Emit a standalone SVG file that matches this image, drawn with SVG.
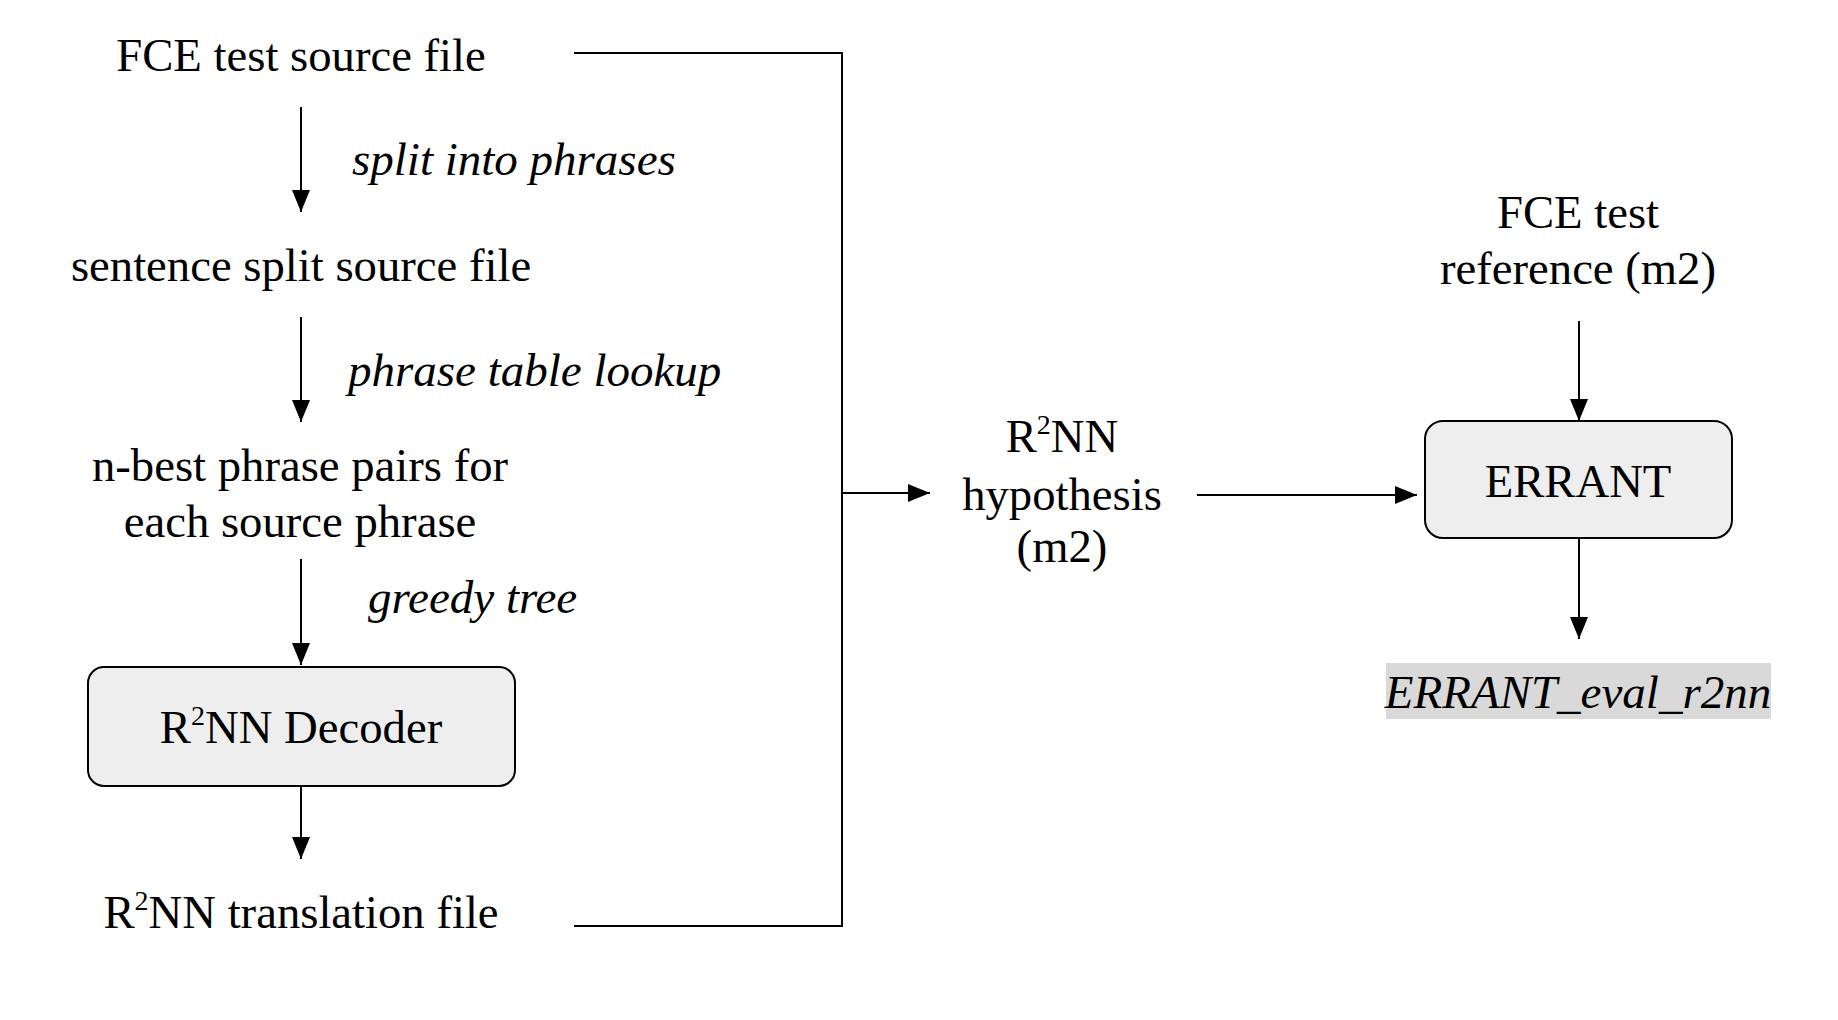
<svg xmlns="http://www.w3.org/2000/svg" width="1838" height="1020" viewBox="0 0 1838 1020">
<defs>
<marker id="ah" viewBox="0 0 22 18" refX="22" refY="9" markerWidth="22" markerHeight="18" markerUnits="userSpaceOnUse" orient="auto">
<path d="M0,0 L22,9 L0,18 z" fill="#000"/>
</marker>
<style>
text{font-family:"Liberation Serif","Times New Roman",serif;font-size:46.7px;fill:#000}
.c{text-anchor:middle}
.i{font-style:italic;font-size:47px}
.box{fill:#eeeeee;stroke:#000;stroke-width:2}
.ln{fill:none;stroke:#000;stroke-width:2}
.ar{fill:none;stroke:#000;stroke-width:2;marker-end:url(#ah)}
</style>
</defs>
<rect width="1838" height="1020" fill="#fff"/>
<g id="connectors">
<line class="ar" x1="301" y1="107" x2="301" y2="212"/>
<line class="ar" x1="301" y1="317" x2="301" y2="422"/>
<line class="ar" x1="301" y1="559" x2="301" y2="665"/>
<line class="ar" x1="301" y1="786" x2="301" y2="859"/>
<polyline class="ln" points="574,53 842,53 842,926 574,926"/>
<line class="ar" x1="842" y1="493" x2="930" y2="493"/>
<line class="ar" x1="1197" y1="495" x2="1417" y2="495"/>
<line class="ar" x1="1579" y1="321" x2="1579" y2="421"/>
<line class="ar" x1="1579" y1="538" x2="1579" y2="639"/>
<text class="i" x="352" y="175">split into phrases</text>
<text class="i" x="348" y="386">phrase table lookup</text>
<text class="i" x="368" y="613">greedy tree</text>
</g>
<g id="fce-source"><text class="c" x="301" y="71">FCE test source file</text></g>
<g id="sentence-split"><text class="c" x="301" y="281">sentence split source file</text></g>
<g id="nbest">
<text class="c" x="300" y="481">n-best phrase pairs for</text>
<text class="c" x="300" y="537">each source phrase</text>
</g>
<g id="decoder">
<rect class="box" x="88" y="667" width="427" height="119" rx="16" ry="16"/>
<text class="c" x="301" y="743">R<tspan font-size="28" dy="-18">2</tspan><tspan dy="18">NN Decoder</tspan></text>
</g>
<g id="translation"><text class="c" x="301" y="928">R<tspan font-size="28" dy="-18">2</tspan><tspan dy="18">NN translation file</tspan></text></g>
<g id="hypothesis">
<text class="c" x="1062" y="452">R<tspan font-size="28" dy="-18">2</tspan><tspan dy="18">NN</tspan></text>
<text class="c" x="1062" y="510">hypothesis</text>
<text class="c" x="1062" y="562">(m2)</text>
</g>
<g id="fce-reference">
<text class="c" x="1578" y="228">FCE test</text>
<text class="c" x="1578" y="284">reference (m2)</text>
</g>
<g id="errant">
<rect class="box" x="1425" y="421" width="307" height="117" rx="18" ry="18"/>
<text class="c" x="1578" y="497">ERRANT</text>
</g>
<g id="errant-eval">
<rect x="1386" y="663" width="385" height="56" fill="#d9d9d9"/>
<text class="c i" x="1578" y="708">ERRANT_eval_r2nn</text>
</g>
</svg>
